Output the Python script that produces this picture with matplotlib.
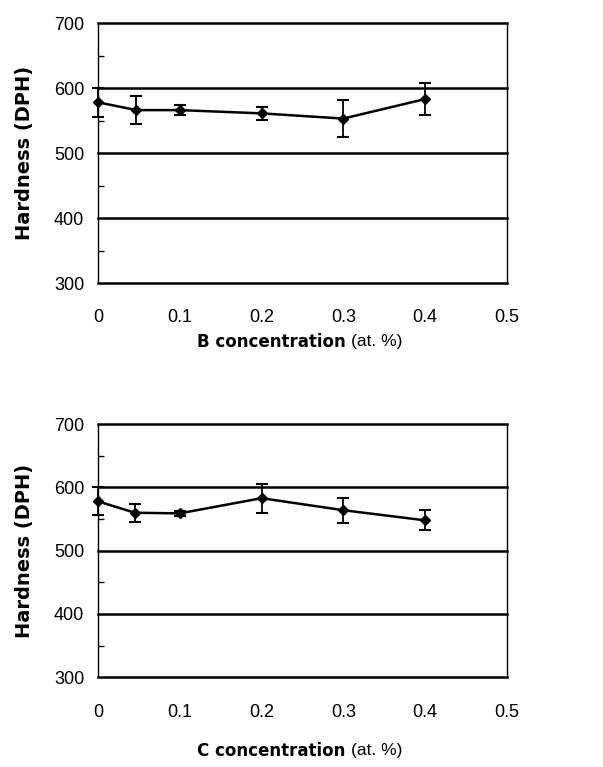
import matplotlib
matplotlib.use("Agg")
from matplotlib import pyplot as plt
from matplotlib.ticker import MultipleLocator

plt.rcParams['font.family'] = ['Liberation Sans', 'DejaVu Sans']

# B doped samples
b_conc = [0.0, 0.047, 0.1, 0.2, 0.3, 0.4]
b_hard = [578, 566, 566, 561, 553, 583]
b_err = [22, 22, 8, 10, 28, 25]

# C doped samples
c_conc = [0.0, 0.045, 0.1, 0.2, 0.3, 0.4]
c_hard = [578, 560, 559, 583, 564, 548]
c_err = [22, 14, 4, 23, 20, 16]

x_ticks = [0, 0.1, 0.2, 0.3, 0.4, 0.5]
x_labels = ["0", "0.1", "0.2", "0.3", "0.4", "0.5"]
y_ticks = [300, 400, 500, 600, 700]


def draw_panel(ax, x, y, err, elem, label_y):
    ax.set_xlim(0, 0.5)
    ax.set_ylim(300, 700)
    for yy in y_ticks:
        ax.axhline(yy, color="black", lw=1.8, zorder=1, clip_on=False)
    ax.errorbar(x, y, yerr=err, color="black", lw=1.8, marker="D", ms=5,
                capsize=4, elinewidth=1.3, capthick=1.5, zorder=3, clip_on=False)
    ax.spines["top"].set_visible(False)
    ax.spines["bottom"].set_visible(False)
    ax.spines["left"].set_linewidth(1.0)
    ax.spines["right"].set_linewidth(1.0)
    ax.set_yticks(y_ticks)
    ax.yaxis.set_minor_locator(MultipleLocator(50))
    ax.tick_params(axis="y", which="major", length=0, pad=10, labelsize=13)
    ax.tick_params(axis="y", which="minor", direction="in", length=4, width=1)
    ax.set_xticks(x_ticks)
    ax.set_xticklabels(x_labels)
    ax.tick_params(axis="x", length=0, pad=19, labelsize=13)
    ax.set_ylabel("Hardness (DPH)", fontsize=14, fontweight="bold", labelpad=14,
                  family=["DejaVu Sans"])
    t = ax.text(0.62, label_y, elem + " concentration ", transform=ax.transAxes,
                ha="right", va="center", fontsize=12, fontweight="bold",
                family=["DejaVu Sans"])
    ax.annotate("(at. %)", xy=(1, 0.5), xycoords=t, ha="left", va="center",
                fontsize=12.5)


fig = plt.figure(figsize=(6.03, 7.67), dpi=100)
ax1 = fig.add_axes([0.1625, 0.631, 0.678, 0.339])
ax2 = fig.add_axes([0.1625, 0.117, 0.678, 0.330])
draw_panel(ax1, b_conc, b_hard, b_err, "B", -0.225)
draw_panel(ax2, c_conc, c_hard, c_err, "C", -0.29)

fig.savefig("out.png", dpi=100)
